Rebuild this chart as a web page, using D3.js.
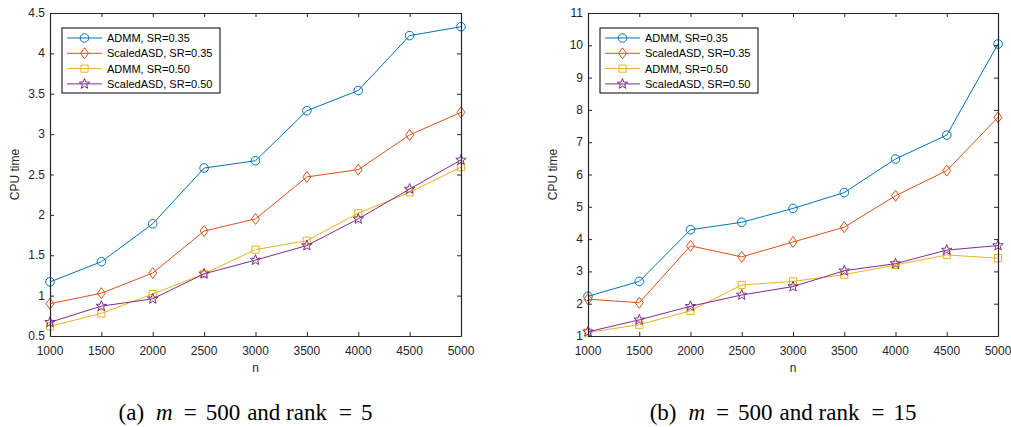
<!DOCTYPE html>
<html>
<head>
<meta charset="utf-8">
<script src="https://cdn.jsdelivr.net/npm/d3@7"></script>
<style>
    body { margin: 0; background: #fff; }
    svg { display: block; }
    .tick-label { font-family: "Liberation Sans", Arial, sans-serif; font-size: 12px; fill: #262626; }
    .legend-text { font-family: "Liberation Sans", Arial, sans-serif; font-size: 11px; fill: #000; }
    .caption { font-family: "Liberation Serif", "Times New Roman", serif; font-size: 23px; fill: #000; }
</style>
</head>
<body>
<div id="chart"></div>
<script>

// x values (n)
const nValues = [1000, 1500, 2000, 2500, 3000, 3500, 4000, 4500, 5000];

// panel (a): m = 500, rank = 5
const admm35A   = [1.17, 1.42, 1.89, 2.58, 2.67, 3.29, 3.54, 4.22, 4.33];
const scaled35A = [0.90, 1.03, 1.28, 1.80, 1.95, 2.47, 2.56, 2.99, 3.27];
const admm50A   = [0.62, 0.78, 1.02, 1.27, 1.57, 1.68, 2.02, 2.28, 2.59];
const scaled50A = [0.67, 0.87, 0.96, 1.27, 1.44, 1.62, 1.95, 2.32, 2.68];

// panel (b): m = 500, rank = 15
const admm35B   = [2.23, 2.69, 4.29, 4.52, 4.95, 5.44, 6.48, 7.22, 10.04];
const scaled35B = [2.14, 2.03, 3.79, 3.45, 3.91, 4.37, 5.34, 6.12, 7.77];
const admm50B   = [1.11, 1.35, 1.78, 2.58, 2.69, 2.90, 3.20, 3.51, 3.41];
const scaled50B = [1.13, 1.50, 1.92, 2.27, 2.53, 3.02, 3.24, 3.66, 3.80];

const seriesNames = ["ADMM, SR=0.35", "ScaledASD, SR=0.35", "ADMM, SR=0.50", "ScaledASD, SR=0.50"];
const seriesColors = ["#0072BD", "#D95319", "#EDB120", "#7E2F8E"];
const seriesMarkers = ["circle", "diamond", "square", "star"];

const yTicksA = [0.5, 1, 1.5, 2, 2.5, 3, 3.5, 4, 4.5];
const yTicksB = [1, 2, 3, 4, 5, 6, 7, 8, 9, 10, 11];

const svg = d3.select("#chart").append("svg")
    .attr("width", 1011)
    .attr("height", 427);

// marker paths centred at 0,0
function markerPath(type) {
    if (type === "circle") return d3.symbol(d3.symbolCircle, 58)();
    if (type === "square") return "M-3.6,-3.6H3.6V3.6H-3.6Z";
    if (type === "diamond") return "M0,-5.5L4,0L0,5.5L-4,0Z";
    // five-point star
    let pts = [];
    for (let i = 0; i < 10; i++) {
        let r = i % 2 === 0 ? 5.5 : 2.3;
        let a = -Math.PI / 2 + i * Math.PI / 5;
        pts.push([r * Math.cos(a), r * Math.sin(a)]);
    }
    return "M" + pts.map(p => p[0].toFixed(2) + "," + p[1].toFixed(2)).join("L") + "Z";
}

class PanelVis {

    constructor(box, series, yDomain, yTicks, caption) {
        this.box = box;
        this.series = series;
        this.yDomain = yDomain;
        this.yTicks = yTicks;
        this.caption = caption;
        this.initVis();
    }

    initVis() {
        let vis = this;
        let b = vis.box;

        vis.x = d3.scaleLinear().domain([1000, 5000]).range([b.left, b.right]);
        vis.y = d3.scaleLinear().domain(vis.yDomain).range([b.bottom, b.top]);

        vis.g = svg.append("g");

        // lines + markers
        vis.series.forEach((vals, i) => {
            let line = d3.line()
                .x((d, j) => vis.x(nValues[j]))
                .y(d => vis.y(d));

            vis.g.append("path")
                .datum(vals)
                .attr("d", line)
                .attr("fill", "none")
                .attr("stroke", seriesColors[i])
                .attr("stroke-width", 1);

            vis.g.selectAll(".m" + i)
                .data(vals)
                .enter()
                .append("path")
                .attr("class", "m" + i)
                .attr("d", markerPath(seriesMarkers[i]))
                .attr("transform", (d, j) => `translate(${vis.x(nValues[j])},${vis.y(d)})`)
                .attr("fill", "none")
                .attr("stroke", seriesColors[i])
                .attr("stroke-width", 1);
        });

        // axes (box on, ticks pointing inward)
        vis.g.append("g")
            .attr("transform", `translate(0,${b.bottom})`)
            .call(d3.axisTop(vis.x).tickValues(nValues).tickSizeInner(4).tickSizeOuter(0).tickFormat(""));
        vis.g.append("g")
            .attr("transform", `translate(0,${b.top})`)
            .call(d3.axisBottom(vis.x).tickValues(nValues).tickSizeInner(4).tickSizeOuter(0).tickFormat(""));
        vis.g.append("g")
            .attr("transform", `translate(${b.left},0)`)
            .call(d3.axisRight(vis.y).tickValues(vis.yTicks).tickSizeInner(4).tickSizeOuter(0).tickFormat(""));
        vis.g.append("g")
            .attr("transform", `translate(${b.right},0)`)
            .call(d3.axisLeft(vis.y).tickValues(vis.yTicks).tickSizeInner(4).tickSizeOuter(0).tickFormat(""));

        vis.g.selectAll(".domain, .tick line")
            .attr("stroke", "#262626")
            .attr("stroke-width", 1);
        vis.g.selectAll(".domain").attr("stroke-width", 1.2);

        // tick labels
        vis.g.selectAll(".xlab")
            .data(nValues)
            .enter()
            .append("text")
            .attr("class", "tick-label")
            .attr("x", d => vis.x(d))
            .attr("y", b.bottom + 19)
            .attr("text-anchor", "middle")
            .text(d => d);

        vis.g.selectAll(".ylab")
            .data(vis.yTicks)
            .enter()
            .append("text")
            .attr("class", "tick-label")
            .attr("x", b.left - 5)
            .attr("y", d => vis.y(d) + 4)
            .attr("text-anchor", "end")
            .text(d => d);

        // axis titles
        vis.g.append("text")
            .attr("class", "tick-label")
            .attr("x", (b.left + b.right) / 2)
            .attr("y", b.bottom + 36)
            .attr("text-anchor", "middle")
            .text("n");

        vis.g.append("text")
            .attr("class", "tick-label")
            .attr("transform", `translate(${b.left - 31},${(b.top + b.bottom) / 2}) rotate(-90)`)
            .attr("text-anchor", "middle")
            .text("CPU time");

        // legend
        let lx = b.left + 12;
        let ly = b.top + 15;
        vis.legend = vis.g.append("g").attr("transform", `translate(${lx},${ly})`);
        vis.legend.append("rect")
            .attr("x", 0).attr("y", 0)
            .attr("width", 158).attr("height", 65)
            .attr("fill", "#fff")
            .attr("stroke", "#000")
            .attr("stroke-width", 1);

        seriesNames.forEach((name, i) => {
            let ry = 10 + i * 15.3;
            vis.legend.append("line")
                .attr("x1", 5).attr("x2", 40)
                .attr("y1", ry).attr("y2", ry)
                .attr("stroke", seriesColors[i])
                .attr("stroke-width", 1);
            vis.legend.append("path")
                .attr("d", markerPath(seriesMarkers[i]))
                .attr("transform", `translate(22.5,${ry})`)
                .attr("fill", "none")
                .attr("stroke", seriesColors[i]);
            vis.legend.append("text")
                .attr("class", "legend-text")
                .attr("x", 45)
                .attr("y", ry + 4)
                .text(name);
        });

        // caption, spaced like LaTeX math
        let cap = svg.append("text")
            .attr("class", "caption")
            .attr("x", (b.left + b.right) / 2 - 10)
            .attr("y", 420)
            .attr("text-anchor", "middle");
        cap.append("tspan").text(vis.caption[0]);
        cap.append("tspan").attr("dx", 12).attr("font-style", "italic").text("m");
        cap.append("tspan").attr("dx", 11).text("=");
        cap.append("tspan").attr("dx", 9).text("500");
        cap.append("tspan").attr("dx", 7).text("and\u00a0rank");
        cap.append("tspan").attr("dx", 12).text("=");
        cap.append("tspan").attr("dx", 9).text(vis.caption[1]);
    }
}

new PanelVis({left: 50, right: 461, top: 13, bottom: 336},
    [admm35A, scaled35A, admm50A, scaled50A], [0.5, 4.5], yTicksA, ["(a)", "5"]);

new PanelVis({left: 588, right: 998, top: 13, bottom: 336},
    [admm35B, scaled35B, admm50B, scaled50B], [1, 11], yTicksB, ["(b)", "15"]);

</script>
</body>
</html>
